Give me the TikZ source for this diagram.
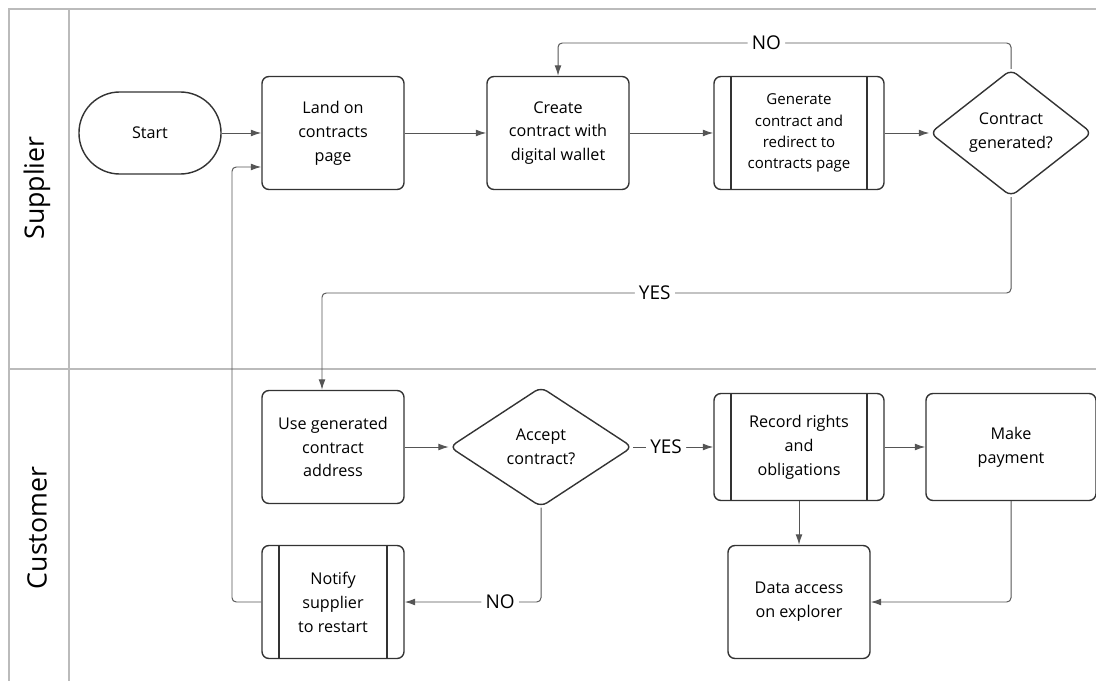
\documentclass[tikz,border=0pt]{standalone}
\usepackage{fontspec}
\setmainfont{Open Sans}
\usetikzlibrary{shapes.geometric}
\usetikzlibrary{arrows.meta}

\definecolor{lanegray}{HTML}{BBBBBB}
\definecolor{boxline}{HTML}{333333}
\definecolor{flowline}{HTML}{555555}

\tikzset{
    box/.style={draw=boxline, line width=1pt, rounded corners=5pt, align=center,
        minimum width=3.55cm, minimum height=2.825cm, inner sep=2pt,
        font=\fontsize{11.5}{17}\selectfont},
    subbox/.style={box, path picture={
        \draw[boxline, line width=1pt]
            ([xshift=0.425cm]path picture bounding box.north west) --
            ([xshift=0.425cm]path picture bounding box.south west);
        \draw[boxline, line width=1pt]
            ([xshift=-0.425cm]path picture bounding box.north east) --
            ([xshift=-0.425cm]path picture bounding box.south east);}},
    decision/.style={diamond, draw=boxline, line width=1pt, rounded corners=5pt,
        align=center, inner sep=0pt, font=\fontsize{11.5}{17}\selectfont},
    terminal/.style={draw=boxline, line width=1pt, rounded corners=1.02cm,
        minimum width=3.55cm, minimum height=2.05cm,
        font=\fontsize{11.5}{17}\selectfont},
    flow/.style={draw=flowline, line width=0.7pt, rounded corners=3pt,
        -{Latex[length=2.6mm, width=1.7mm]}},
    answer/.style={fill=white, inner sep=3pt, font=\fontsize{13.5}{16}\selectfont},
    lane/.style={draw=lanegray, line width=1pt},
    lanename/.style={rotate=90, font=\fontsize{19}{22}\selectfont}
}

\begin{document}
\begin{tikzpicture}[x=0.025cm, y=-0.025cm]
    \useasboundingbox (0,0) rectangle (1096,681);

    % swimlanes
    \draw[lane] (9,681) -- (9,9) -- (1096,9);
    \draw[lane] (69,9) -- (69,681);
    \draw[lane] (9,369) -- (1096,369);
    \node[lanename] (supplier) at (37,188) {Supplier};
    \node[lanename] (customer) at (37,528) {Customer};

    % supplier lane
    \node[terminal] (start) at (150,133) {Start};
    \node[box] (land) at (333,133) {Land on\\ contracts\\ page};
    \node[box] (create) at (558,133) {Create\\ contract with\\ digital wallet};
    \node[subbox, minimum width=4.25cm, font=\fontsize{10.7}{15}\selectfont]
        (generate) at (799,133) {Generate\\ contract and\\ redirect to\\ contracts page};
    \node[decision, minimum width=4.05cm, minimum height=3.175cm, aspect=1.28]
        (generated) at (1011,133) {Contract\\ generated?};

    % customer lane
    \node[box] (use) at (333,447) {Use generated\\ contract\\ address};
    \node[decision, minimum width=4.575cm, minimum height=3.0cm, aspect=1.5]
        (accept) at (541,447) {Accept\\ contract?};
    \node[subbox, minimum width=4.25cm, minimum height=2.675cm] (record) at (799,447)
        {Record rights\\ and\\ obligations};
    \node[box, minimum width=4.25cm, minimum height=2.675cm] (payment) at (1011,447)
        {Make\\ payment};
    \node[box] (explorer) at (799,602) {Data access\\ on explorer};
    \node[subbox] (notify) at (333,602) {Notify\\ supplier\\ to restart};

    % flows
    \draw[flow] (start) -- (land);
    \draw[flow] (land) -- (create);
    \draw[flow] (create) -- (generate);
    \draw[flow] (generate) -- (generated);
    \draw[flow] (generated.north) -- (generated.north |- 0,43)
        -- node[answer, pos=0.54] (no1) {NO} (create.north |- 0,43) -- (create.north);
    \coordinate (usein) at (322,0);
    \draw[flow] (generated.south) -- (generated.south |- 0,293)
        -- node[answer, pos=0.517] (yes1) {YES} (usein |- 0,293) -- (usein |- use.north);
    \draw[flow] (use) -- (accept);
    \draw[flow] (accept) -- node[answer, pos=0.41] (yes2) {YES} (record);
    \draw[flow] (record) -- (payment);
    \draw[flow] (record) -- (explorer);
    \draw[flow] (payment.south) |- (explorer.east);
    \draw[flow] (accept.south) -- (accept.south |- notify.east)
        -- node[answer, pos=0.3] (no2) {NO} (notify.east);
    \coordinate (loop) at (232,167);
    \draw[flow] (notify.west) -- (notify.west -| loop) -- (loop) -- (land.west |- loop);

\end{tikzpicture}
\end{document}
